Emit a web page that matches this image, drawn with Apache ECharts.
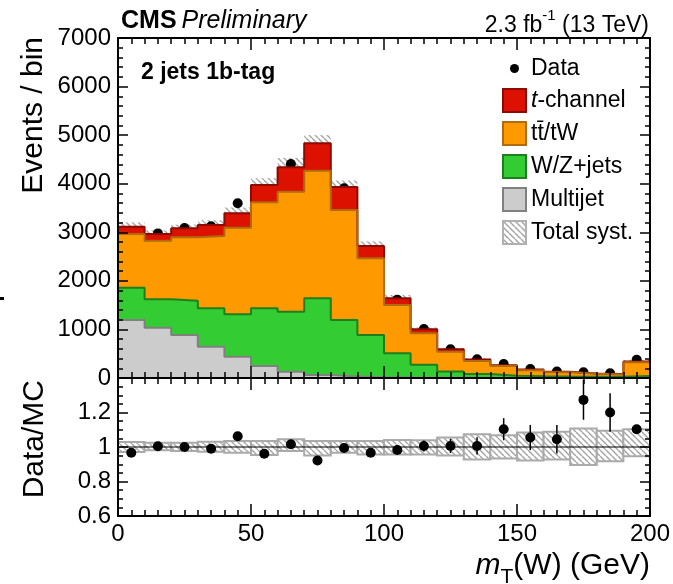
<!DOCTYPE html>
<html lang="en">
<head>
    <meta charset="UTF-8">
    <title>mT(W) 2 jets 1b-tag</title>
    <script src="https://cdn.jsdelivr.net/npm/echarts@6/dist/echarts.min.js"></script>
    <style>
        html, body { margin: 0; padding: 0; background: #fff; }
        #chart { width: 673px; height: 584px; }
    </style>
</head>
<body>
<div id="chart"></div>
<script>
    // left edges of the 10 GeV bins
    let binLow = [0, 10, 20, 30, 40, 50, 60, 70, 80, 90, 100, 110, 120, 130, 140, 150, 160, 170, 180, 190];
    let binWidth = 10;

    // per-process yields (events / bin), bottom of the stack first
    let multijet = [1194, 1036, 885, 645, 439, 247, 130, 62, 30, 15, 8, 5, 3, 2, 2, 1, 1, 1, 1, 2];
    let wzjets   = [666, 584, 707, 790, 872, 1188, 1235, 1579, 1164, 870, 500, 270, 132, 78, 43, 34, 29, 27, 27, 38];
    let ttbar    = [1105, 1207, 1305, 1489, 1784, 2185, 2471, 2627, 2265, 1579, 995, 645, 407, 270, 200, 125, 88, 58, 46, 285];
    let tchannel = [151, 138, 185, 226, 296, 354, 501, 563, 471, 254, 138, 82, 48, 32, 17, 15, 10, 6, 6, 15];
    let dataCounts = [3013, 2977, 3090, 3122, 3597, 3823, 4406, 4454, 3906, 2628, 1613, 1008, 593, 384, 288, 185, 134, 117, 96, 374];

    // ratio panel
    let ratio    = [0.967, 1.004, 1.0, 0.99, 1.062, 0.961, 1.016, 0.922, 0.994, 0.967, 0.983, 1.006, 1.006, 1.006, 1.103, 1.055, 1.045, 1.273, 1.2, 1.103];
    let ratioErr = [0.018, 0.018, 0.018, 0.018, 0.017, 0.016, 0.015, 0.015, 0.016, 0.019, 0.025, 0.032, 0.041, 0.05, 0.064, 0.073, 0.083, 0.115, 0.112, 0.025];
    // relative total systematic band (MC = 1)
    let systLow  = [0.971, 0.981, 0.977, 0.973, 0.967, 0.953, 0.977, 0.951, 0.967, 0.957, 0.957, 0.957, 0.951, 0.928, 0.934, 0.922, 0.928, 0.895, 0.918, 0.947];
    let systHigh = [1.029, 1.025, 1.025, 1.031, 1.035, 1.035, 1.045, 1.035, 1.035, 1.035, 1.041, 1.039, 1.055, 1.074, 1.068, 1.084, 1.088, 1.107, 1.094, 1.103];

    let xTicks = { min: 0, max: 200, interval: 50 };
    let yTicksTop = { min: 0, max: 7000, interval: 1000 };
    let yTicksRatio = { min: 0.6, max: 1.4, interval: 0.2 };

    const FONT = '"Liberation Sans", Arial, sans-serif';

    // cumulative stack
    let cumMJ = multijet.slice();
    let cumWZ = cumMJ.map((v, i) => v + wzjets[i]);
    let cumTT = cumWZ.map((v, i) => v + ttbar[i]);
    let cumTot = cumTT.map((v, i) => v + tchannel[i]);

    function stepPoints(vals) {
        let pts = binLow.map((x, i) => [x, vals[i]]);
        pts.push([binLow[binLow.length - 1] + binWidth, vals[vals.length - 1]]);
        return pts;
    }

    function hatchCanvas() {
        let c = document.createElement('canvas');
        c.width = 6; c.height = 6;
        let g = c.getContext('2d');
        g.fillStyle = '#ffffff';
        g.fillRect(0, 0, 6, 6);
        g.strokeStyle = '#a4a4a4';
        g.lineWidth = 1.4;
        g.beginPath();
        for (let k = -1; k <= 1; k++) {
            g.moveTo(k * 6, 0);
            g.lineTo(k * 6 + 6, 6);
        }
        g.stroke();
        return c;
    }
    let hatch = { image: hatchCanvas(), repeat: 'repeat' };

    function xAxis(grid, position, labels) {
        return {
            type: 'value', gridIndex: grid, position: position, z: 10,
            min: xTicks.min, max: xTicks.max, interval: xTicks.interval,
            axisLine: { show: true, onZero: false, lineStyle: { color: '#000', width: 2 } },
            axisTick: { show: true, inside: true, length: 12, lineStyle: { color: '#000', width: 1.5 } },
            minorTick: { show: true, splitNumber: 10, length: 6, lineStyle: { color: '#000', width: 1.5 } },
            axisLabel: { show: labels, margin: 6, fontSize: 24, fontFamily: FONT, color: '#000' },
            splitLine: { show: false }
        };
    }

    function yAxis(grid, position, ticks, labels, minor) {
        let a = {
            type: 'value', gridIndex: grid, position: position, z: 10,
            min: ticks.min, max: ticks.max, interval: ticks.interval,
            axisLine: { show: true, onZero: false, lineStyle: { color: '#000', width: 2 } },
            axisTick: { show: true, inside: true, length: 10, lineStyle: { color: '#000', width: 1.5 } },
            minorTick: { show: true, splitNumber: minor, length: 5, lineStyle: { color: '#000', width: 1.5 } },
            axisLabel: { show: labels, margin: 7, fontSize: 24, fontFamily: FONT, color: '#000' },
            splitLine: { show: false }
        };
        if (labels) {
            a.axisLabel.formatter = function (v) { return String(+v.toFixed(1)); };
        }
        return a;
    }

    function stackLayer(name, vals, fill, border) {
        return {
            name: name, type: 'line', xAxisIndex: 0, yAxisIndex: 0,
            step: 'end', symbol: 'none', data: stepPoints(vals),
            lineStyle: { color: border, width: 2 },
            itemStyle: { color: fill },
            areaStyle: { color: fill, opacity: 1 }
        };
    }

    function bandItem(params, api, stroke) {
        let p0 = api.coord([api.value(0), api.value(3)]);
        let p1 = api.coord([api.value(1), api.value(2)]);
        return {
            type: 'rect',
            shape: { x: p0[0], y: p0[1], width: p1[0] - p0[0], height: p1[1] - p0[1] },
            style: { fill: hatch, stroke: stroke || 'none', lineWidth: stroke ? 2 : 0 }
        };
    }

    let topBand = binLow.map((x, i) => [x, x + binWidth, cumTot[i] * systLow[i], cumTot[i] * systHigh[i]]);
    let ratioBand = binLow.map((x, i) => [x, x + binWidth, systLow[i], systHigh[i]]);

    let ratioY = yAxis(1, 'left', yTicksRatio, true, 4);
    ratioY.axisLabel.showMaxLabel = false;

    let chart = echarts.init(document.getElementById('chart'));
    let option = {
        animation: false,
        grid: [
            { left: 118, right: 23, top: 38, height: 340 },
            { left: 118, right: 23, top: 378, height: 138 }
        ],
        xAxis: [
            xAxis(0, 'bottom', false),
            xAxis(0, 'top', false),
            xAxis(1, 'bottom', true),
            xAxis(1, 'top', false)
        ],
        yAxis: [
            yAxis(0, 'left', yTicksTop, true, 5),
            yAxis(0, 'right', yTicksTop, false, 5),
            ratioY,
            yAxis(1, 'right', yTicksRatio, false, 4)
        ],
        title: [
            {
                text: '{b|CMS} {i|Preliminary}', left: 116, top: 4,
                textStyle: {
                    fontWeight: 'normal',
                    rich: {
                        b: { fontFamily: FONT, fontWeight: 'bold', fontSize: 25, color: '#000' },
                        i: { fontFamily: FONT, fontWeight: 'normal', fontStyle: 'italic', fontSize: 25, color: '#000' }
                    }
                }
            },
            {
                text: '{n|2.3 fb}{s|-1}{n| (13 TeV)}', right: 19, top: 3,
                textStyle: {
                    fontWeight: 'normal',
                    rich: {
                        n: { fontFamily: FONT, fontWeight: 'normal', fontSize: 23, color: '#000', padding: [6, 0, 0, 0] },
                        s: { fontFamily: FONT, fontWeight: 'normal', fontSize: 15, color: '#000', verticalAlign: 'top' }
                    }
                }
            },
            {
                text: '2 jets 1b-tag', left: 136, top: 56,
                textStyle: { fontFamily: FONT, fontWeight: 'bold', fontSize: 23, color: '#000' }
            },
            {
                text: '{i|m}{s|T}{n|(W) (GeV)}', right: 18, top: 546,
                textStyle: {
                    fontWeight: 'normal',
                    rich: {
                        i: { fontFamily: FONT, fontWeight: 'normal', fontStyle: 'italic', fontSize: 30, color: '#000', padding: [0, 0, 7, 0] },
                        s: { fontFamily: FONT, fontWeight: 'normal', fontSize: 21, color: '#000', verticalAlign: 'bottom' },
                        n: { fontFamily: FONT, fontWeight: 'normal', fontSize: 30, color: '#000', padding: [0, 0, 7, 0] }
                    }
                }
            }
        ],
        legend: {
            left: 497, top: 52, orient: 'vertical',
            itemWidth: 23, itemHeight: 23, itemGap: 8,
            selectedMode: false,
            textStyle: {
                fontFamily: FONT, fontSize: 23, lineHeight: 23, color: '#000',
                rich: { it: { fontFamily: FONT, fontStyle: 'italic', fontSize: 23, lineHeight: 23, color: '#000' } }
            },
            formatter: function (name) {
                return name === 't-channel' ? '{it|t}-channel' : name;
            },
            data: [
                { name: 'Data', icon: 'path://M0,0M23,23M7,11.5a4.5,4.5 0 1,0 9,0a4.5,4.5 0 1,0 -9,0z', itemStyle: { color: '#000', borderWidth: 0 } },
                { name: 't-channel', icon: 'rect', itemStyle: { color: '#dd1100', borderColor: '#8c0a00', borderWidth: 2 } },
                { name: 'tt\u0304/tW', icon: 'rect', itemStyle: { color: '#ff9900', borderColor: '#b06a10', borderWidth: 2 } },
                { name: 'W/Z+jets', icon: 'rect', itemStyle: { color: '#33cc33', borderColor: '#1d7f1d', borderWidth: 2 } },
                { name: 'Multijet', icon: 'rect', itemStyle: { color: '#cccccc', borderColor: '#808080', borderWidth: 2 } },
                { name: 'Total syst.', icon: 'rect', itemStyle: { color: hatch, borderColor: '#b0b0b0', borderWidth: 2 } }
            ]
        },
        graphic: [
            {
                type: 'text', x: 34, y: 37, rotation: Math.PI / 2,
                style: { text: 'Events / bin', font: '30px "Liberation Sans"', fill: '#000', align: 'right', verticalAlign: 'middle' }
            },
            {
                type: 'text', x: 35, y: 380, rotation: Math.PI / 2,
                style: { text: 'Data/MC', font: '30px "Liberation Sans"', fill: '#000', align: 'right', verticalAlign: 'middle' }
            },
            { type: 'rect', shape: { x: 0, y: 297, width: 4, height: 3 }, style: { fill: '#000' } }
        ],
        series: [
            stackLayer('t-channel', cumTot, '#dd1100', '#8c0a00'),
            stackLayer('tt\u0304/tW', cumTT, '#ff9900', '#b06a10'),
            stackLayer('W/Z+jets', cumWZ, '#33cc33', '#1d7f1d'),
            stackLayer('Multijet', cumMJ, '#cccccc', '#808080'),
            {
                name: 'Total syst.', type: 'custom', xAxisIndex: 0, yAxisIndex: 0,
                data: topBand, encode: { x: [0, 1], y: [2, 3] }, clip: true,
                itemStyle: { color: '#b0b0b0' },
                renderItem: function (params, api) { return bandItem(params, api, null); }
            },
            {
                name: 'Data', type: 'scatter', xAxisIndex: 0, yAxisIndex: 0,
                symbolSize: 10, itemStyle: { color: '#000', opacity: 1 },
                data: binLow.map((x, i) => [x + binWidth / 2, dataCounts[i]])
            },
            {
                name: 'ratioBand', type: 'custom', xAxisIndex: 2, yAxisIndex: 2,
                data: ratioBand, encode: { x: [0, 1], y: [2, 3] }, clip: true,
                renderItem: function (params, api) { return bandItem(params, api, '#aaaaaa'); }
            },
            {
                name: 'unity', type: 'line', xAxisIndex: 2, yAxisIndex: 2,
                symbol: 'none', data: [[0, 1], [200, 1]],
                lineStyle: { color: '#000', width: 1.2 }
            },
            {
                name: 'ratioErr', type: 'custom', xAxisIndex: 2, yAxisIndex: 2,
                data: binLow.map((x, i) => [x + binWidth / 2, ratio[i] - ratioErr[i], ratio[i] + ratioErr[i]]),
                encode: { x: 0, y: [1, 2] }, clip: true,
                renderItem: function (params, api) {
                    let p0 = api.coord([api.value(0), api.value(1)]);
                    let p1 = api.coord([api.value(0), api.value(2)]);
                    return {
                        type: 'line',
                        shape: { x1: p0[0], y1: p0[1], x2: p1[0], y2: p1[1] },
                        style: { stroke: '#000', lineWidth: 1.5 }
                    };
                }
            },
            {
                name: 'ratio', type: 'scatter', xAxisIndex: 2, yAxisIndex: 2,
                symbolSize: 10, itemStyle: { color: '#000', opacity: 1 },
                data: binLow.map((x, i) => [x + binWidth / 2, ratio[i]])
            }
        ]
    };
    chart.setOption(option);
</script>
</body>
</html>
